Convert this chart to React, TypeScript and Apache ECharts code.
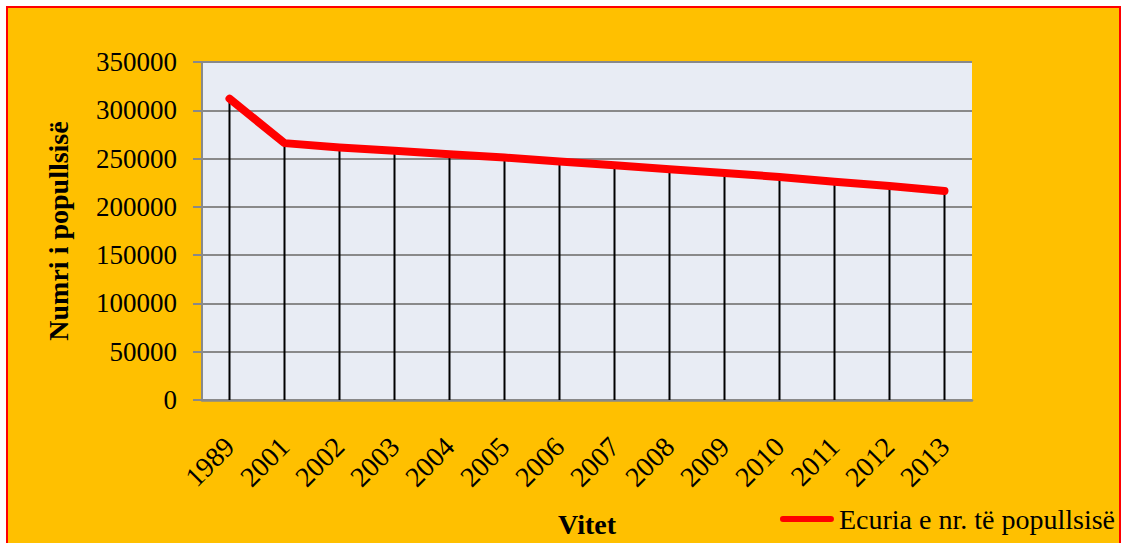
import React, { useEffect, useRef } from "react";
import * as echarts from "echarts";

const categories = ["1989", "2001", "2002", "2003", "2004", "2005", "2006", "2007", "2008", "2009", "2010", "2011", "2012", "2013"];
const population = [312000, 266000, 261500, 258000, 254500, 251000, 247000, 243000, 239000, 235000, 231000, 226000, 221500, 216500];
const seriesName = "Ecuria e nr. të popullsisë";
const yTitle = "Numri i popullsisë";
const xTitle = "Vitet";

export default function App() {
  const ref = useRef<HTMLDivElement>(null);
  useEffect(() => {
    document.body.style.margin = "0";
    const chart = echarts.init(ref.current!, null, { renderer: "svg" });
    const font = "'Liberation Serif', 'Times New Roman', serif";
    chart.setOption({
      animation: false,
      backgroundColor: "#ffffff",
      textStyle: { fontFamily: font },
      graphic: [
        {
          type: "rect",
          z: -10,
          shape: { x: 7, y: 7, width: 1113, height: 560 },
          style: { fill: "#FFC000", stroke: "#FF0000", lineWidth: 2 },
        },
      ],
      grid: {
        left: 202,
        top: 62,
        right: 150,
        bottom: 143,
        show: true,
        backgroundColor: "#E8ECF4",
        borderWidth: 0,
      },
      legend: {
        right: 2,
        bottom: 5,
        itemWidth: 54,
        itemHeight: 6,
        data: [{ name: seriesName, icon: "path://M3,0 L51,0 A3,3 0 0 1 51,6 L3,6 A3,3 0 0 1 3,0 Z", itemStyle: { color: "#FF0000" } }],
        textStyle: { fontFamily: font, fontSize: 28, color: "#000" },
        itemGap: 6,
      },
      xAxis: {
        type: "category",
        data: categories,
        boundaryGap: true,
        name: xTitle,
        nameLocation: "middle",
        nameGap: 110,
        nameTextStyle: { fontFamily: font, fontSize: 28, fontWeight: "bold", color: "#000" },
        axisLine: { show: true, lineStyle: { color: "#898989", width: 2.5 } },
        axisTick: { show: false },
        axisLabel: { rotate: 45, fontFamily: font, fontSize: 28, color: "#000", margin: 42 },
        splitLine: { show: false },
      },
      yAxis: {
        type: "value",
        min: 0,
        max: 350000,
        interval: 50000,
        name: yTitle,
        nameLocation: "middle",
        nameGap: 130,
        nameTextStyle: { fontFamily: font, fontSize: 28, fontWeight: "bold", color: "#000" },
        axisLine: { show: true, lineStyle: { color: "#898989", width: 2 } },
        axisTick: { show: true, length: 9, lineStyle: { color: "#898989", width: 2 } },
        axisLabel: { fontFamily: font, fontSize: 27, color: "#000", margin: 25, formatter: (v: number) => String(v) },
        splitLine: { show: true, lineStyle: { color: "#898989", width: 2 } },
      },
      series: [
        {
          name: "drop",
          type: "bar",
          data: population,
          barWidth: 2,
          barGap: "-100%",
          itemStyle: { color: "#000" },
          silent: true,
          z: 2,
        },
        {
          name: seriesName,
          type: "line",
          data: population,
          symbol: "none",
          lineStyle: { color: "#FF0000", width: 8, cap: "round", join: "round" },
          itemStyle: { color: "#FF0000" },
          z: 3,
        },
      ],
    });
    return () => chart.dispose();
  }, []);
  return <div ref={ref} style={{ width: 1122, height: 543 }} />;
}
